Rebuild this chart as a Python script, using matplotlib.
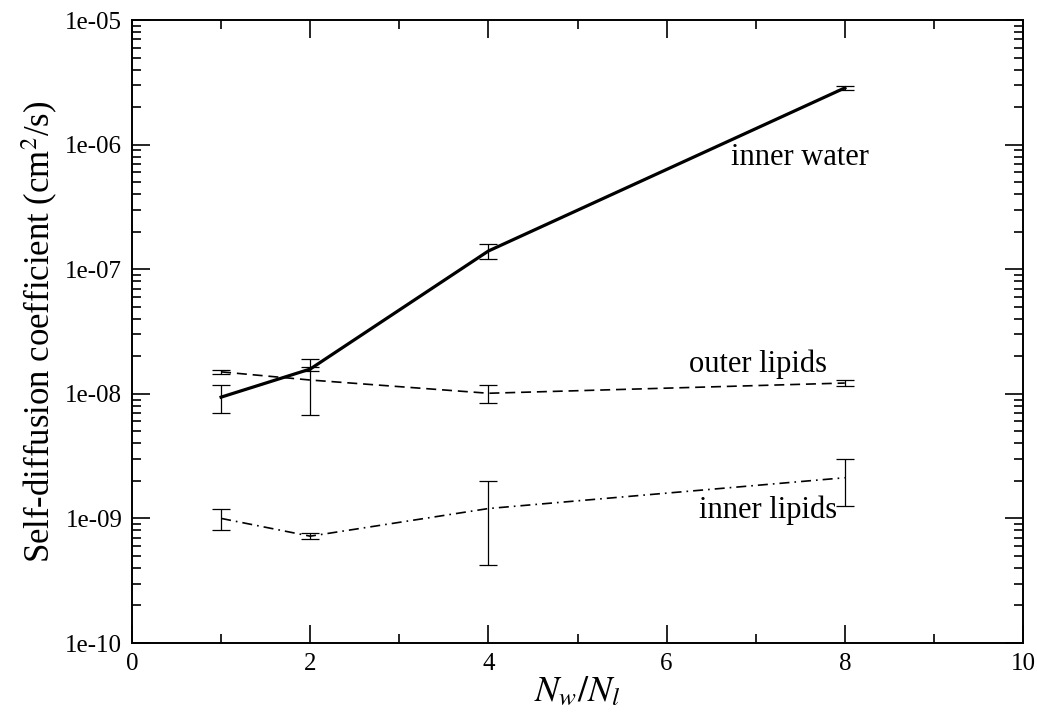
import numpy as np
import matplotlib
matplotlib.use("Agg")
import matplotlib.pyplot as plt
from matplotlib.ticker import FixedLocator, FuncFormatter, LogLocator, NullFormatter

plt.rcParams['font.family'] = ['Liberation Serif', 'DejaVu Serif']
plt.rcParams['mathtext.fontset'] = 'stix'

# ratio of water to lipid molecules
ratio = [1, 2, 4, 8]

# self-diffusion coefficients (cm^2/s) and their error bars
inner_water = [9.4e-9, 1.58e-8, 1.40e-7, 2.85e-6]
inner_water_err = [2.4e-9, 0.5e-9, 1.9e-8, 0.1e-6]

outer_lipids = [1.50e-8, 1.29e-8, 1.01e-8, 1.22e-8]
outer_lipids_err = [0.5e-9, 6.2e-9, 1.7e-9, 0.7e-9]

inner_lipids = [1.0e-9, 7.2e-10, 1.2e-9, 2.12e-9]
inner_lipids_err = [1.9e-10, 0.4e-10, 7.8e-10, 8.6e-10]

labels = ["inner water", "outer lipids", "inner lipids"]
label_pos = [(6.72, 6.85e-7), (6.25, 1.5e-8), (6.36, 1.0e-9)]

fig = plt.figure(figsize=(10.37, 7.21), dpi=100)
ax = fig.add_axes([132 / 1037, 1 - 643 / 721, (1023 - 132) / 1037, (643 - 20) / 721])

err_kw = dict(ecolor='black', elinewidth=0.9, capsize=6.2, capthick=0.9)
ax.errorbar(ratio, inner_water, yerr=inner_water_err, color='black', lw=2.3, **err_kw)
ax.errorbar(ratio, outer_lipids, yerr=outer_lipids_err, color='black', lw=1.2,
            linestyle=(0, (6, 3.5)), **err_kw)
ax.errorbar(ratio, inner_lipids, yerr=inner_lipids_err, color='black', lw=1.2,
            linestyle=(0, (6, 3, 1, 3)), **err_kw)

for txt, (xt, yt) in zip(labels, label_pos):
    ax.text(xt, yt, txt, fontsize=22, ha='left', va='baseline')

ax.set_yscale('log')
ax.set_xlim(0, 10)
ax.set_ylim(1e-10, 1e-5)

ax.xaxis.set_major_locator(FixedLocator([0, 2, 4, 6, 8, 10]))
ax.xaxis.set_minor_locator(FixedLocator([1, 3, 5, 7, 9]))
ax.yaxis.set_major_locator(LogLocator(base=10, numticks=10))
ax.yaxis.set_minor_locator(LogLocator(base=10, subs=np.arange(2, 10), numticks=10))
ax.yaxis.set_major_formatter(FuncFormatter(lambda v, p: f"{v:.0e}"))
ax.yaxis.set_minor_formatter(NullFormatter())

ax.tick_params(which='both', direction='in', top=True, right=True, width=1.2)
ax.tick_params(which='major', length=13, labelsize=18, pad=7)
ax.tick_params(which='minor', length=6.5)
for s in ax.spines.values():
    s.set_linewidth(1.4)

ax.set_xlabel(r"$N_w/N_l$", fontsize=26, labelpad=1)
ax.set_ylabel(r"Self-diffusion coefficient (cm$^2$/s)", fontsize=25, labelpad=4)

fig.savefig("out.png", dpi=100)
